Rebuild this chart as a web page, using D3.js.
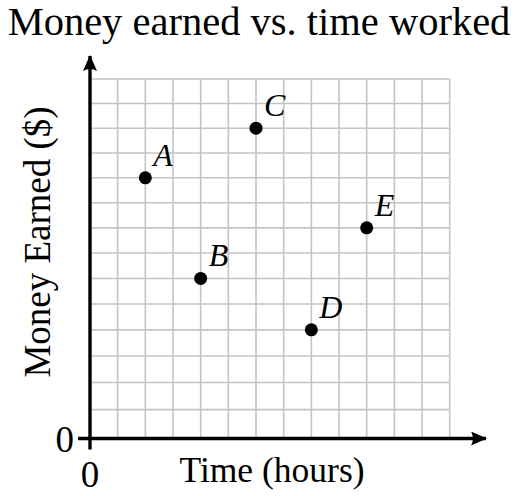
<!DOCTYPE html>
<html>
<head>
<meta charset="utf-8">
<script src="https://cdn.jsdelivr.net/npm/d3@7"></script>
<style>
  body { margin: 0; background: #fff; }
  text { font-family: "Liberation Serif", "Times New Roman", serif; fill: #000; }
</style>
</head>
<body>
<div id="chart"></div>
<script>
// Data
const labels = ["A", "B", "C", "D", "E"];
const hours = [2, 4, 6, 8, 10];
const money = [10, 6, 12, 4, 8];
const xTicks = [0];
const yTicks = [0];

const width = 520;
const height = 496;

const svg = d3.select("#chart")
    .append("svg")
    .attr("width", width)
    .attr("height", height);

// Scales (grid is 13 x 14 cells)
const x = d3.scaleLinear().domain([0, 13]).range([90, 449.7]);
const y = d3.scalePow().exponent(0.955).domain([0, 14]).range([438.5, 79]);

// Grid
const grid = svg.append("g")
    .style("stroke", "#c4c4c4")
    .style("stroke-width", 1.6);

grid.selectAll("line.v")
    .data(d3.range(1, 14))
    .enter()
    .append("line")
    .attr("class", "v")
    .attr("x1", d => x(d))
    .attr("x2", d => x(d))
    .attr("y1", y(0))
    .attr("y2", y(14));

grid.selectAll("line.h")
    .data(d3.range(1, 15))
    .enter()
    .append("line")
    .attr("class", "h")
    .attr("x1", x(0))
    .attr("x2", x(13))
    .attr("y1", d => y(d))
    .attr("y2", d => y(d));

// Axes with arrows
svg.append("defs").append("marker")
    .attr("id", "arrow")
    .attr("viewBox", "0 0 16 14")
    .attr("refX", 15)
    .attr("refY", 7)
    .attr("markerWidth", 16)
    .attr("markerHeight", 14)
    .attr("markerUnits", "userSpaceOnUse")
    .attr("orient", "auto")
    .append("path")
    .attr("d", "M0,0 Q4,7 0,14 L16,7 Z")
    .style("fill", "#000");

svg.append("line")
    .attr("x1", x(0) - 12)
    .attr("x2", 486)
    .attr("y1", y(0))
    .attr("y2", y(0))
    .style("stroke", "#000")
    .style("stroke-width", 3.4)
    .attr("marker-end", "url(#arrow)");

svg.append("line")
    .attr("x1", x(0))
    .attr("x2", x(0))
    .attr("y1", y(0) + 11)
    .attr("y2", 56)
    .style("stroke", "#000")
    .style("stroke-width", 3.4)
    .attr("marker-end", "url(#arrow)");

// Tick labels
svg.selectAll("text.xtick")
    .data(xTicks)
    .enter()
    .append("text")
    .attr("class", "xtick")
    .attr("x", d => x(d))
    .attr("y", y(0) + 48)
    .attr("text-anchor", "middle")
    .style("font-size", "37px")
    .text(d => d);

svg.selectAll("text.ytick")
    .data(yTicks)
    .enter()
    .append("text")
    .attr("class", "ytick")
    .attr("x", x(0) - 16)
    .attr("y", d => y(d) + 13)
    .attr("text-anchor", "end")
    .style("font-size", "37px")
    .text(d => d);

// Points
svg.selectAll("circle")
    .data(labels)
    .enter()
    .append("circle")
    .attr("cx", (d, i) => x(hours[i]))
    .attr("cy", (d, i) => y(money[i]))
    .attr("r", 6.5)
    .style("fill", "#000");

svg.selectAll("text.pt")
    .data(labels)
    .enter()
    .append("text")
    .attr("class", "pt")
    .attr("x", (d, i) => x(hours[i]) + 8)
    .attr("y", (d, i) => y(money[i]) - 12)
    .style("font-size", "32px")
    .style("font-style", "italic")
    .text(d => d);

// Title and axis labels
svg.append("text")
    .attr("x", 259)
    .attr("y", 35)
    .attr("text-anchor", "middle")
    .style("font-size", "40.5px")
    .text("Money earned vs. time worked");

svg.append("text")
    .attr("x", 272)
    .attr("y", 482)
    .attr("text-anchor", "middle")
    .style("font-size", "35.5px")
    .text("Time (hours)");

svg.append("text")
    .attr("transform", "translate(50,242) rotate(-90)")
    .attr("text-anchor", "middle")
    .style("font-size", "37px")
    .text("Money Earned ($)");
</script>
</body>
</html>
